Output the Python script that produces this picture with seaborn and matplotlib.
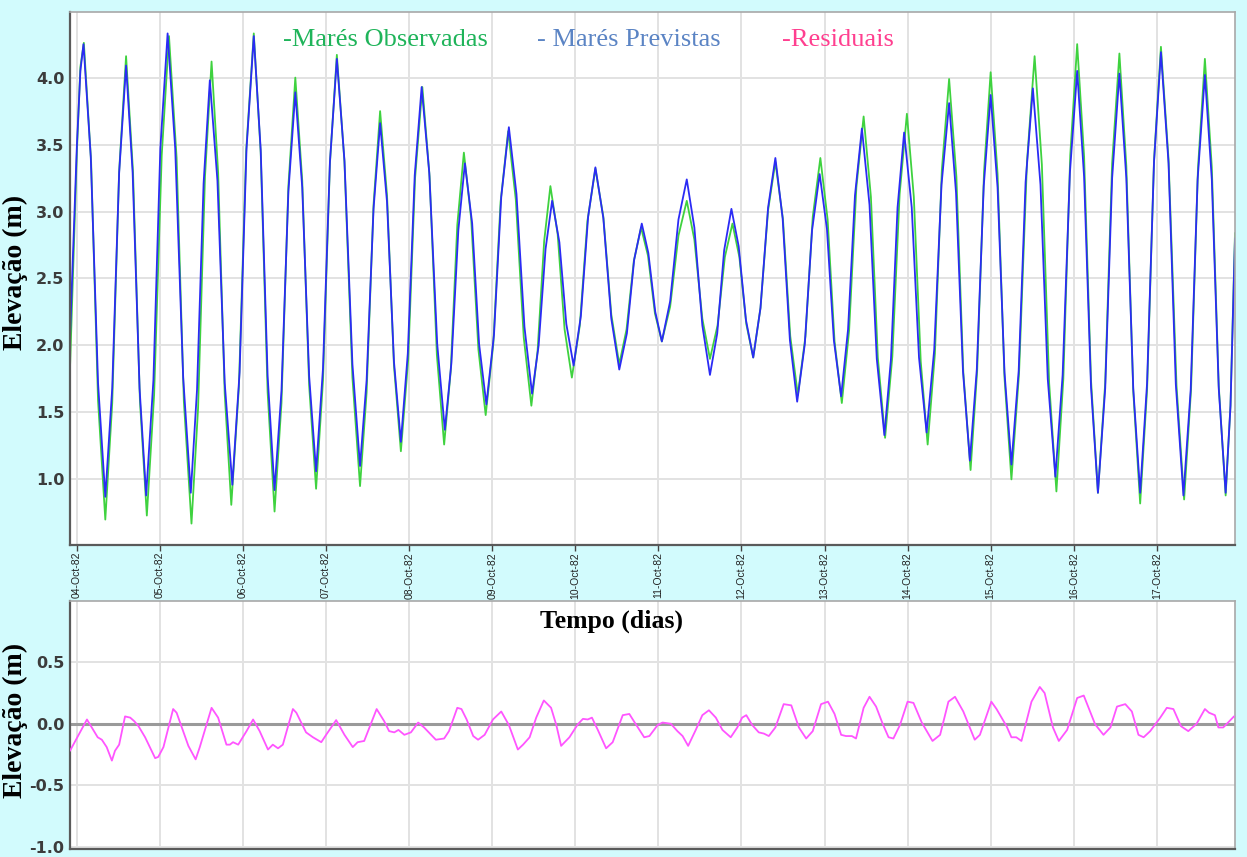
import matplotlib
matplotlib.use("Agg")
import matplotlib.pyplot as plt
import pandas as pd
import seaborn as sns

# ---------------- data ----------------
day_labels = ["04-Oct-82", "05-Oct-82", "06-Oct-82", "07-Oct-82", "08-Oct-82",
              "09-Oct-82", "10-Oct-82", "11-Oct-82", "12-Oct-82", "13-Oct-82",
              "14-Oct-82", "15-Oct-82", "16-Oct-82", "17-Oct-82"]

# hours since 04-Oct-82 00:00 / elevation (m)
pred_hours = [-2.0, 0.0, 1.0, 1.9, 4.0, 6.1, 8.2, 10.2, 12.2, 14.2, 16.1, 18.1, 20.0,
              22.1, 24.1, 26.2, 28.4, 30.7, 32.9, 34.7, 36.6, 38.4, 40.6, 42.7, 44.9,
              47.0, 49.0, 51.1, 53.1, 55.1, 57.1, 59.1, 61.1, 63.1, 65.1, 67.1, 69.1,
              71.1, 73.1, 75.1, 77.3, 79.6, 81.8, 83.7, 85.7, 87.6, 89.6, 91.6, 93.6,
              95.6, 97.6, 99.6, 101.8, 104.1, 106.3, 108.2, 110.2, 112.1, 114.2, 116.2, 118.3,
              120.5, 122.6, 124.8, 127.0, 129.3, 131.5, 133.4, 135.4, 137.3, 139.4, 141.4, 143.5,
              145.6, 147.7, 149.8, 152.1, 154.4, 156.7, 158.9, 161.0, 163.2, 165.1, 167.1, 169.0,
              171.4, 173.8, 176.2, 178.4, 180.7, 182.9, 185.0, 187.0, 189.1, 191.2, 193.3, 195.4,
              197.5, 199.7, 201.8, 203.9, 206.0, 208.1, 210.3, 212.4, 214.6, 216.7, 218.7, 220.8,
              222.8, 224.8, 226.8, 229.0, 231.1, 233.3, 235.2, 237.1, 239.0, 241.2, 243.3, 245.5,
              247.7, 249.8, 252.0, 254.0, 256.0, 258.0, 260.0, 262.0, 264.0, 266.0, 268.0, 270.0,
              272.1, 274.1, 276.2, 278.4, 280.5, 282.7, 284.8, 286.9, 289.0, 291.0, 293.0, 295.0,
              297.1, 299.1, 301.2, 303.2, 305.2, 307.2, 309.2, 311.2, 313.2, 315.4, 317.5, 319.7,
              321.8, 323.8, 325.9, 327.9, 329.9, 331.9, 333.3, 334.6]
pred_vals = [2.06, 3.50, 4.05, 4.25, 3.41, 1.72, 0.87, 1.68, 3.29, 4.09, 3.29, 1.68, 0.88,
             1.74, 3.47, 4.33, 3.47, 1.76, 0.90, 1.67, 3.21, 3.98, 3.23, 1.72, 0.96,
             1.80, 3.47, 4.31, 3.46, 1.77, 0.92, 1.66, 3.15, 3.89, 3.18, 1.77, 1.06,
             1.83, 3.37, 4.14, 3.38, 1.86, 1.10, 1.74, 3.02, 3.66, 3.07, 1.88, 1.28,
             1.94, 3.27, 3.93, 3.29, 2.01, 1.37, 1.87, 2.86, 3.36, 2.91, 2.01, 1.56,
             2.08, 3.11, 3.63, 3.13, 2.14, 1.64, 2.00, 2.72, 3.08, 2.77, 2.16, 1.85,
             2.22, 2.96, 3.33, 2.95, 2.20, 1.82, 2.09, 2.64, 2.91, 2.69, 2.25, 2.03,
             2.33, 2.94, 3.24, 2.88, 2.15, 1.78, 2.09, 2.71, 3.02, 2.74, 2.19, 1.91,
             2.28, 3.03, 3.40, 2.95, 2.04, 1.58, 2.01, 2.86, 3.28, 2.87, 2.04, 1.62,
             2.12, 3.12, 3.62, 3.05, 1.90, 1.33, 1.90, 3.03, 3.59, 3.03, 1.91, 1.35,
             1.97, 3.20, 3.81, 3.14, 1.81, 1.14, 1.82, 3.19, 3.87, 3.18, 1.80, 1.11,
             1.81, 3.22, 3.92, 3.20, 1.75, 1.02, 1.78, 3.29, 4.05, 3.26, 1.69, 0.90,
             1.68, 3.25, 4.03, 3.25, 1.68, 0.90, 1.72, 3.37, 4.19, 3.36, 1.71, 0.88,
             1.67, 3.24, 4.02, 3.24, 1.68, 0.90, 1.55, 2.80]

obs_hours = [-2.0, 0.0, 1.0, 2.0, 4.1, 6.1, 8.2, 10.2, 12.2, 14.2, 16.2, 18.2, 20.2,
             22.3, 24.5, 26.6, 28.8, 30.9, 33.1, 35.0, 37.0, 38.9, 40.8, 42.7, 44.6,
             46.8, 48.9, 51.1, 53.1, 55.1, 57.1, 59.1, 61.1, 63.1, 65.1, 67.1, 69.1,
             71.1, 73.1, 75.1, 77.3, 79.6, 81.8, 83.7, 85.7, 87.6, 89.6, 91.6, 93.6,
             95.7, 97.7, 99.8, 101.9, 104.0, 106.1, 108.0, 109.9, 111.8, 113.9, 116.0, 118.1,
             120.3, 122.4, 124.6, 126.8, 129.1, 131.3, 133.1, 135.0, 136.8, 138.9, 140.9, 143.0,
             145.3, 147.5, 149.8, 152.1, 154.4, 156.7, 158.8, 160.9, 163.0, 165.0, 167.0, 169.0,
             171.4, 173.8, 176.2, 178.4, 180.7, 182.9, 185.1, 187.2, 189.4, 191.4, 193.4, 195.4,
             197.5, 199.7, 201.8, 204.0, 206.1, 208.3, 210.5, 212.6, 214.8, 216.9, 218.9, 221.0,
             223.1, 225.2, 227.3, 229.4, 231.4, 233.5, 235.6, 237.7, 239.8, 241.8, 243.8, 245.8,
             247.9, 249.9, 252.0, 254.1, 256.1, 258.2, 260.1, 262.1, 264.0, 266.0, 268.0, 270.0,
             272.2, 274.5, 276.7, 278.8, 280.9, 283.0, 285.0, 287.0, 289.0, 291.0, 293.0, 295.0,
             297.1, 299.1, 301.2, 303.2, 305.2, 307.2, 309.2, 311.2, 313.2, 315.4, 317.7, 319.9,
             321.9, 323.9, 325.9, 327.9, 329.9, 331.9, 333.3, 334.6]
obs_vals = [1.83, 3.45, 4.08, 4.26, 3.37, 1.59, 0.70, 1.57, 3.30, 4.16, 3.30, 1.59, 0.73,
            1.63, 3.42, 4.31, 3.40, 1.58, 0.67, 1.53, 3.26, 4.12, 3.29, 1.64, 0.81,
            1.69, 3.45, 4.33, 3.44, 1.65, 0.76, 1.57, 3.19, 4.00, 3.23, 1.70, 0.93,
            1.74, 3.36, 4.17, 3.37, 1.76, 0.95, 1.65, 3.05, 3.75, 3.12, 1.85, 1.21,
            1.89, 3.25, 3.93, 3.26, 1.93, 1.26, 1.81, 2.90, 3.44, 2.95, 1.97, 1.48,
            2.01, 3.07, 3.60, 3.09, 2.06, 1.55, 1.96, 2.78, 3.19, 2.83, 2.12, 1.76,
            2.15, 2.93, 3.32, 2.96, 2.23, 1.86, 2.12, 2.63, 2.88, 2.67, 2.24, 2.03,
            2.29, 2.82, 3.08, 2.79, 2.20, 1.90, 2.15, 2.66, 2.91, 2.66, 2.16, 1.91,
            2.28, 3.01, 3.37, 2.94, 2.07, 1.63, 2.07, 2.96, 3.40, 2.94, 2.03, 1.57,
            2.11, 3.18, 3.71, 3.11, 1.91, 1.31, 1.92, 3.13, 3.73, 3.11, 1.88, 1.26,
            1.94, 3.31, 3.99, 3.26, 1.80, 1.07, 1.81, 3.30, 4.04, 3.28, 1.76, 1.00,
            1.79, 3.37, 4.16, 3.35, 1.72, 0.91, 1.75, 3.42, 4.25, 3.41, 1.74, 0.90,
            1.72, 3.36, 4.18, 3.34, 1.66, 0.82, 1.67, 3.38, 4.23, 3.39, 1.70, 0.85,
            1.67, 3.32, 4.14, 3.33, 1.70, 0.88, 1.55, 2.84]

res_hours = [-2.0, 2.9, 6.0, 7.2, 8.6, 10.1, 11.0, 12.2, 13.9, 15.4, 16.6, 17.8, 19.7,
             22.6, 23.5, 25.0, 27.8, 28.8, 32.2, 34.3, 35.5, 38.9, 40.8, 43.2, 44.2,
             45.1, 46.6, 49.0, 50.9, 52.8, 55.2, 56.6, 58.1, 59.5, 62.4, 63.4, 66.2,
             68.2, 70.6, 72.0, 74.9, 77.3, 79.7, 81.1, 83.0, 86.6, 88.8, 90.2, 91.7,
             92.9, 94.6, 96.5, 98.6, 100.3, 103.7, 106.1, 107.5, 109.9, 111.1, 112.6, 114.5,
             115.9, 117.8, 120.2, 122.6, 124.8, 127.4, 128.9, 130.8, 132.7, 134.9, 137.0, 138.5,
             139.9, 142.3, 144.7, 146.2, 147.6, 148.8, 150.5, 152.9, 154.8, 157.7, 159.6, 161.5,
             163.9, 165.4, 167.8, 169.2, 171.6, 173.5, 175.0, 176.6, 178.8, 180.7, 182.6, 184.6,
             186.5, 188.9, 190.8, 192.2, 193.4, 195.1, 197.0, 198.5, 199.9, 201.8, 204.2, 206.4,
             208.6, 210.7, 212.6, 215.0, 217.0, 218.9, 220.8, 222.2, 223.9, 225.1, 227.3, 229.0,
             230.9, 232.8, 234.5, 235.9, 237.8, 240.0, 241.7, 244.1, 247.2, 249.4, 251.8, 253.7,
             256.1, 259.4, 260.9, 264.2, 265.7, 268.6, 270.0, 271.4, 272.9, 275.8, 278.2, 279.6,
             282.0, 283.7, 286.1, 289.0, 290.9, 294.2, 296.6, 298.6, 300.5, 302.9, 304.8, 306.7,
             308.2, 310.1, 313.0, 314.9, 316.8, 319.0, 321.1, 323.5, 325.9, 327.1, 328.8, 329.8,
             331.2, 332.6, 334.3]
res_vals = [-0.22, 0.035, -0.11, -0.13, -0.19, -0.30, -0.22, -0.17, 0.06, 0.05, 0.02, -0.02, -0.11,
            -0.28, -0.27, -0.19, 0.12, 0.09, -0.18, -0.29, -0.19, 0.13, 0.05, -0.17, -0.17,
            -0.15, -0.17, -0.06, 0.035, -0.06, -0.21, -0.17, -0.20, -0.17, 0.12, 0.09, -0.07,
            -0.11, -0.15, -0.09, 0.03, -0.09, -0.19, -0.15, -0.14, 0.12, 0.02, -0.06, -0.07,
            -0.05, -0.09, -0.07, 0.01, -0.03, -0.13, -0.12, -0.06, 0.13, 0.12, 0.035, -0.10,
            -0.13, -0.09, 0.035, 0.10, -0.01, -0.21, -0.17, -0.11, 0.05, 0.19, 0.13, -0.01,
            -0.18, -0.11, -0.005, 0.04, 0.035, 0.05, -0.05, -0.20, -0.15, 0.07, 0.08, -0.005,
            -0.11, -0.10, -0.01, 0.01, 0.0, -0.06, -0.10, -0.18, -0.05, 0.07, 0.11, 0.05,
            -0.05, -0.11, -0.03, 0.05, 0.07, -0.01, -0.07, -0.08, -0.10, -0.03, 0.16, 0.15,
            -0.03, -0.12, -0.06, 0.16, 0.18, 0.08, -0.09, -0.10, -0.10, -0.12, 0.13, 0.22,
            0.14, 0.0, -0.11, -0.12, -0.01, 0.18, 0.17, 0.01, -0.14, -0.09, 0.18, 0.22,
            0.10, -0.13, -0.09, 0.18, 0.12, -0.02, -0.11, -0.11, -0.14, 0.18, 0.30, 0.25,
            -0.03, -0.14, -0.05, 0.21, 0.23, -0.005, -0.09, -0.03, 0.14, 0.16, 0.10, -0.09,
            -0.11, -0.06, 0.05, 0.13, 0.12, -0.02, -0.06, 0.0, 0.12, 0.09, 0.07, -0.03,
            -0.03, 0.01, 0.06]

top_yticks = [1.0, 1.5, 2.0, 2.5, 3.0, 3.5, 4.0]
bottom_yticks = [-1.0, -0.5, 0.0, 0.5]

# ---------------- style ----------------
W, H = 1247, 857
BG = "#D2FBFD"
sns.set_theme(style="whitegrid")
plt.rcParams["font.family"] = ["DejaVu Sans"]

fig = plt.figure(figsize=(W / 100, H / 100), dpi=100, facecolor=BG)
ax1 = fig.add_axes([70 / W, 1 - 545 / H, 1165 / W, 533 / H])
ax2 = fig.add_axes([70 / W, 1 - 849 / H, 1165 / W, 248 / H])

df_obs = pd.DataFrame({"hora": obs_hours, "elev": obs_vals})
df_pred = pd.DataFrame({"hora": pred_hours, "elev": pred_vals})
df_res = pd.DataFrame({"hora": res_hours, "elev": res_vals})

sns.lineplot(data=df_obs, x="hora", y="elev", ax=ax1, color="#3FD23F",
             linewidth=1.3, sort=False, estimator=None)
sns.lineplot(data=df_pred, x="hora", y="elev", ax=ax1, color="#2B2BF5",
             linewidth=1.3, sort=False, estimator=None)

ax2.axhline(0.0, color="#9A9A9A", linewidth=2.2, zorder=1)
sns.lineplot(data=df_res, x="hora", y="elev", ax=ax2, color="#FF55FF",
             linewidth=1.3, sort=False, estimator=None, zorder=3)

day_ticks = [24 * i for i in range(len(day_labels))]
xlim = (-2.0, 334.6)

for ax in (ax1, ax2):
    ax.set_facecolor("white")
    ax.set_xlim(*xlim)
    ax.set_xticks(day_ticks)
    ax.grid(True, color="#E2E2E2", linewidth=1.4)
    ax.set_xlabel("")
    ax.set_ylabel("")
    for side in ("top", "right"):
        ax.spines[side].set_color("#A8A8A8")
        ax.spines[side].set_linewidth(1.2)
    for side in ("left", "bottom"):
        ax.spines[side].set_color("#5A5A5A")
        ax.spines[side].set_linewidth(1.6)
    ax.tick_params(axis="y", length=0, pad=4, labelsize=11.5, labelcolor="#3C3C3C")

ax1.set_ylim(0.51, 4.49)
ax1.set_yticks(top_yticks)
ax1.set_yticklabels([f"{v:.1f}" for v in top_yticks], fontweight="bold")
ax1.set_xticklabels(day_labels, rotation=90, fontsize=7.5, family="Liberation Sans",
                    color="#222222")
ax1.tick_params(axis="x", length=4, width=1, color="#444444", pad=1, bottom=True)

ax2.set_ylim(-1.02, 1.0)
ax2.set_yticks(bottom_yticks)
ax2.set_yticklabels([f"{v:.1f}" for v in bottom_yticks], fontweight="bold")
ax2.set_xticklabels([])
ax2.tick_params(axis="x", length=0)

serif = "Liberation Serif"
fig.text(15 / W, 1 - 272 / H, "Elevação (m)", rotation=90, ha="center", va="center",
         family=serif, fontweight="bold", fontsize=20, color="black")
fig.text(15 / W, 1 - 720 / H, "Elevação (m)", rotation=90, ha="center", va="center",
         family=serif, fontweight="bold", fontsize=20, color="black")
fig.text(611 / W, 1 - 628 / H, "Tempo (dias)", ha="center", va="baseline",
         family=serif, fontweight="bold", fontsize=18.5, color="black")

fig.text(283 / W, 1 - 46 / H, "-Marés Observadas", ha="left", va="baseline",
         family=serif, fontsize=19, color="#1FB45A")
fig.text(537 / W, 1 - 46 / H, "- Marés Previstas", ha="left", va="baseline",
         family=serif, fontsize=19, color="#5B84C4")
fig.text(782 / W, 1 - 46 / H, "-Residuais", ha="left", va="baseline",
         family=serif, fontsize=19, color="#FF3F8F")

fig.savefig("out.png", dpi=100, facecolor=BG)
